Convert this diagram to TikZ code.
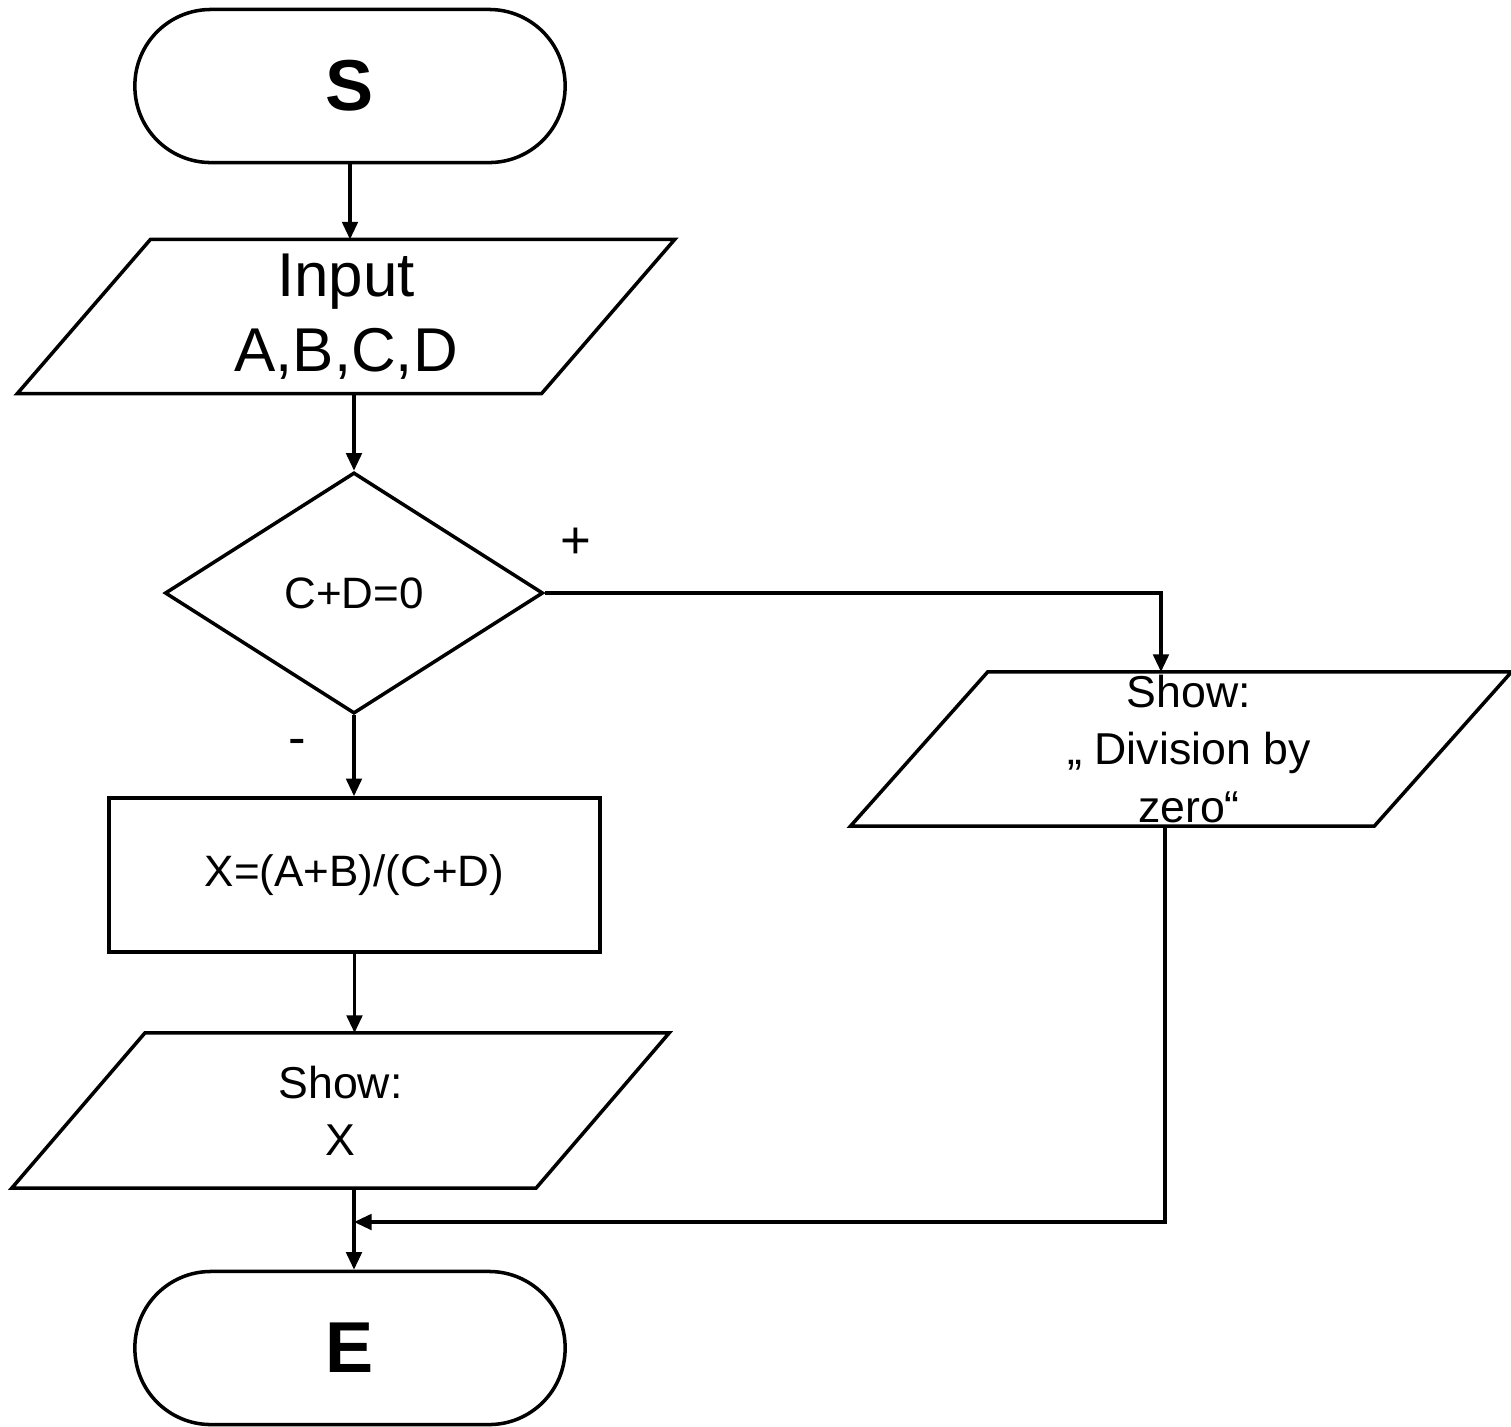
\documentclass[tikz,border=0pt]{standalone}
\usepackage{fontspec}
\setmainfont{Liberation Sans}
\usetikzlibrary{arrows.meta,shapes.geometric,calc}
\newcommand\paradraw[2]{\draw ([xshift=#2]#1.north west) -- ([xshift=#2]#1.north east) -- ([xshift=-#2]#1.south east) -- ([xshift=-#2]#1.south west) -- cycle;}
\begin{document}
\begin{tikzpicture}[x=0.01cm,y=-0.01cm,
  line width=1pt,
  arr/.style={-{Triangle[width=4.4pt,length=5pt]}},
  term/.style={draw, rectangle, rounded corners=0.76cm, minimum width=4.30cm, minimum height=1.53cm, inner sep=0pt, font=\fontsize{20.5}{24}\selectfont\bfseries},
  iotext/.style={rectangle, minimum width=5.24cm, minimum height=1.54cm, inner sep=0pt, outer sep=0pt, align=center},
  procbox/.style={draw, rectangle, minimum width=4.91cm, minimum height=1.54cm, inner sep=0pt, font=\fontsize{12.5}{15}\selectfont},
  decbox/.style={draw, diamond, minimum width=3.78cm, minimum height=2.41cm, inner sep=0pt, font=\fontsize{12.5}{15}\selectfont},
  lbl/.style={font=\fontsize{15}{18}\selectfont, inner sep=0pt}
]
\useasboundingbox (0,0) rectangle (1511,1426);

\node[term] (S) at (350,86) {S};
\node[iotext, font=\fontsize{17.6}{21.3}\selectfont] (in) at (346,316.5) {Input\\A,B,C,D};
\paradraw{in}{0.665cm}
\node[decbox] (dec) at (354,593) {C+D=0};
\node[iotext, minimum width=5.235cm, font=\fontsize{12.7}{16.3}\selectfont] (div) at (1181,749) {\hspace*{0.16cm}Show:\\\hspace*{0.16cm}„ Division by\\\hspace*{0.16cm}zero“};
\paradraw{div}{0.685cm}
\node[procbox] (proc) at (354.5,875) {X=(A+B)/(C+D)};
\node[iotext, minimum height=1.55cm, font=\fontsize{12.7}{16.3}\selectfont] (showx) at (340.5,1110.5) {Show:\\X};
\paradraw{showx}{0.665cm}
\node[term] (E) at (350,1348) {E};

\node[lbl] (plus) at (576,543) {+};
\node[lbl] (minus) at (297,747) {-};

\coordinate (divin) at ([xshift=-0.2cm]div.north);
\coordinate (divout) at ([xshift=-0.16cm]div.south);
\coordinate (j) at (354,1222);

\draw[arr] (S.south) -- (S.south |- in.north);
\draw[arr] (dec.north |- in.south) -- (dec.north);
\draw[arr] (dec.east) -| (divin);
\draw[arr] (dec.south) -- (dec.south |- proc.north);
\draw[arr] (proc.south) -- (proc.south |- showx.north);
\draw[arr] (j |- showx.south) -- (j |- E.north);
\draw[arr] (divout) |- (j);
\end{tikzpicture}
\end{document}
